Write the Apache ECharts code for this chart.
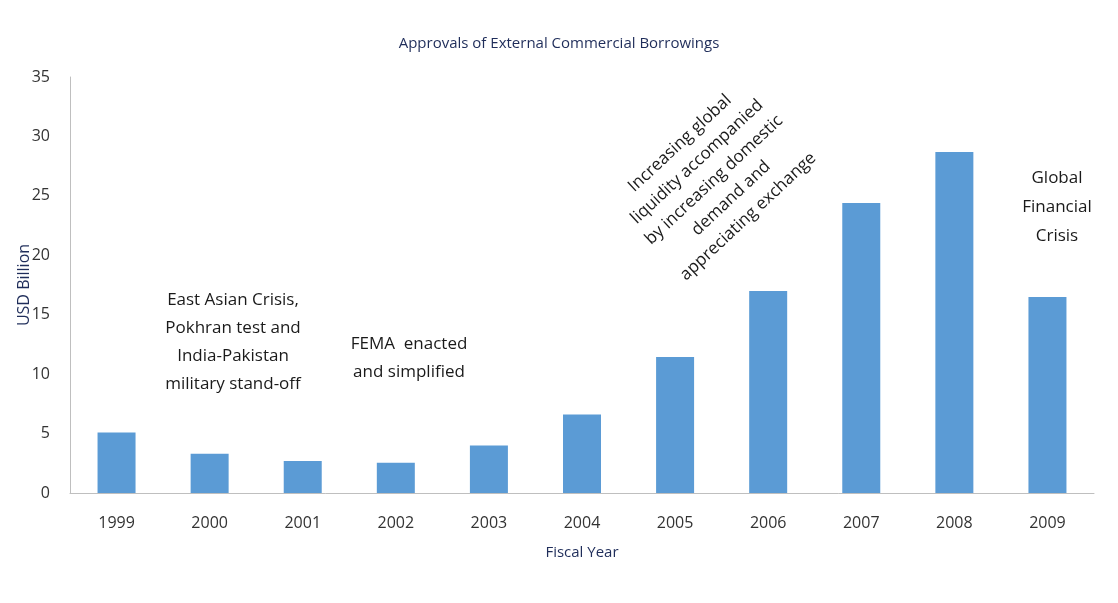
<!DOCTYPE html>
<html><head><meta charset="utf-8">
<script src="https://cdn.jsdelivr.net/npm/echarts@6/dist/echarts.min.js"></script>
<style>html,body{margin:0;padding:0;background:#fff}#c{width:1118px;height:603px}</style>
</head><body><div id="c"></div>
<script>
const years = ['1999','2000','2001','2002','2003','2004','2005','2006','2007','2008','2009'];
const approvals = [5.1, 3.3, 2.7, 2.55, 4.0, 6.6, 11.45, 17.0, 24.4, 28.7, 16.5];
const yTicks = {min: 0, max: 35, interval: 5};
const titleText = 'Approvals of External Commercial Borrowings';
const yName = 'USD Billion';
const xName = 'Fiscal Year';
const note1 = 'East Asian Crisis,\nPokhran test and\nIndia-Pakistan\nmilitary stand-off';
const note2 = 'FEMA  enacted\nand simplified';
const note3 = 'Increasing global\nliquidity accompanied\nby increasing domestic\ndemand and\nappreciating exchange';
const note4 = 'Global\nFinancial\nCrisis';

const FONT = '"Open Sans", sans-serif';
const navy = '#1F2D5A';
const chart = echarts.init(document.getElementById('c'));
chart.setOption({
  animation: false,
  title: {text: titleText, left: 'center', top: 31,
    textStyle: {fontFamily: FONT, fontSize: 15, fontWeight: 'normal', color: navy}},
  grid: {left: 70, right: 24, top: 77, bottom: 110, outerBoundsMode: 'none', containLabel: false},
  xAxis: {type: 'category', data: years,
    name: xName, nameLocation: 'middle', nameGap: 52, nameMoveOverlap: false,
    nameTextStyle: {fontFamily: FONT, fontSize: 15, color: navy},
    axisLine: {lineStyle: {color: '#BFBFBF'}}, axisTick: {show: false},
    axisLabel: {fontFamily: FONT, fontSize: 16, color: '#333', margin: 22}},
  yAxis: {type: 'value', min: yTicks.min, max: yTicks.max, interval: yTicks.interval,
    name: yName, nameLocation: 'middle', nameGap: 38, nameRotate: 90, nameMoveOverlap: false,
    nameTextStyle: {fontFamily: FONT, fontSize: 16, color: navy},
    axisLine: {show: true, lineStyle: {color: '#BFBFBF'}}, axisTick: {show: false},
    splitLine: {show: false},
    axisLabel: {fontFamily: FONT, fontSize: 16, color: '#333', margin: 20}},
  series: [{type: 'bar', data: approvals, barWidth: 38, itemStyle: {color: '#5B9BD5'}}],
  graphic: [
    {type: 'text', x: 233, y: 342, style: {text: note1, align: 'center', verticalAlign: 'middle',
      font: '17px ' + FONT, fill: '#1a1a1a', lineHeight: 28}},
    {type: 'text', x: 409, y: 358, style: {text: note2, align: 'center', verticalAlign: 'middle',
      font: '17px ' + FONT, fill: '#1a1a1a', lineHeight: 28}},
    {type: 'text', x: 714, y: 180, rotation: 43 * Math.PI / 180, style: {text: note3, align: 'center', verticalAlign: 'middle',
      font: '17px ' + FONT, fill: '#1a1a1a', lineHeight: 25}},
    {type: 'text', x: 1057, y: 207, style: {text: note4, align: 'center', verticalAlign: 'middle',
      font: '17px ' + FONT, fill: '#1a1a1a', lineHeight: 29}}
  ]
});
</script></body></html>
